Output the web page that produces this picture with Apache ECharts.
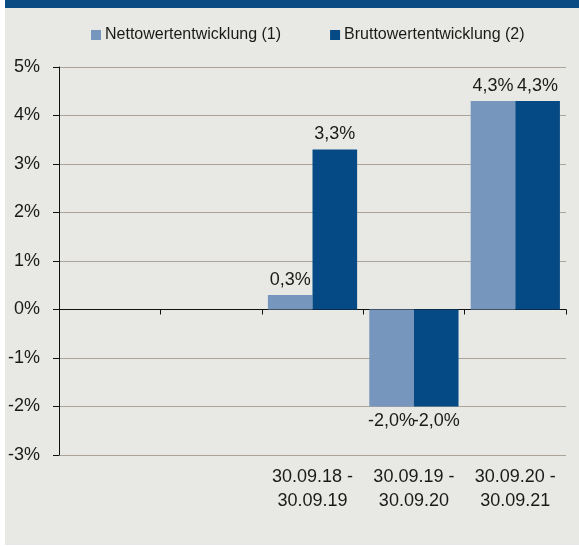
<!DOCTYPE html>
<html>
<head>
<meta charset="utf-8">
<script src="https://cdn.jsdelivr.net/npm/echarts@6/dist/echarts.min.js"></script>
<style>
  html, body { margin: 0; padding: 0; background: #ffffff; }
  #main { width: 579px; height: 546px; }
</style>
</head>
<body>
<div id="main"></div>
<script>
// Kategorien (die ersten beiden Jahre sind leer)
var categories = ['', '', '30.09.18 -\n30.09.19', '30.09.19 -\n30.09.20', '30.09.20 -\n30.09.21'];
// Nettowertentwicklung (1)
var nettoValues = [null, null, 0.3, -2.0, 4.3];
// Bruttowertentwicklung (2)
var bruttoValues = [null, null, 3.3, -2.0, 4.3];
var seriesNames = ['Nettowertentwicklung (1)', 'Bruttowertentwicklung (2)'];

var fontFamily = '"Liberation Sans", Arial, sans-serif';
var textColor = '#1a1a1a';

// Prozentwert mit Komma
function fmt(v) {
    return v.toFixed(1).replace('.', ',') + '%';
}

var main = document.getElementById('main');
var chart = echarts.init(main);

function barLabel() {
    return {
        show: true,
        position: 'top',
        distance: 6,
        color: textColor,
        fontFamily: fontFamily,
        fontSize: 18,
        formatter: function (p) {
            return p.value == null ? '' : fmt(p.value);
        }
    };
}

function withNegLabel(values) {
    // negative Balken bekommen das Label unten
    return values.map(function (v) {
        if (v != null && v < 0) {
            return { value: v, label: { position: 'bottom' } };
        }
        return v;
    });
}

var option = {
    backgroundColor: '#ffffff',
    animation: false,
    graphic: [
        { type: 'rect', shape: { x: 5, y: 0, width: 574, height: 545 }, style: { fill: '#e8e8e4' }, z: -10 },
        { type: 'rect', shape: { x: 5, y: 0, width: 574, height: 8 }, style: { fill: '#0b4b84' }, z: -9 }
    ],
    legend: {
        top: 27,
        left: 91,
        padding: 0,
        itemWidth: 10,
        itemHeight: 10,
        itemGap: 49,
        icon: 'rect',
        textStyle: { color: textColor, fontFamily: fontFamily, fontSize: 16, padding: [0, 0, 0, -1] },
        data: seriesNames
    },
    grid: {
        left: 59,
        right: 13,
        top: 67,
        bottom: 91,
        containLabel: false
    },
    xAxis: [
        {
            type: 'category',
            data: categories,
            position: 'bottom',
            axisLine: { show: false },
            axisTick: { show: false },
            axisLabel: {
                color: textColor,
                fontFamily: fontFamily,
                fontSize: 18,
                lineHeight: 24,
                margin: 10,
                interval: 0
            }
        },
        {
            type: 'category',
            data: categories,
            position: 'bottom',
            axisLine: { show: true, onZero: true, onZeroAxisIndex: 0, lineStyle: { color: '#111111', width: 1 } },
            axisTick: { show: true, length: 5, inside: false, lineStyle: { color: '#111111' } },
            axisLabel: { show: false }
        }
    ],
    yAxis: {
        type: 'value',
        min: -3,
        max: 5,
        interval: 1,
        axisLine: { show: true, lineStyle: { color: '#111111', width: 1 } },
        axisTick: { show: true, length: 6, lineStyle: { color: '#111111' } },
        splitLine: { show: true, lineStyle: { color: '#aaa49b', width: 1 } },
        axisLabel: {
            color: textColor,
            fontFamily: fontFamily,
            fontSize: 18,
            margin: 19,
            formatter: function (v) { return v + '%'; }
        }
    },
    series: [
        {
            name: seriesNames[0],
            type: 'bar',
            xAxisIndex: 0,
            data: withNegLabel(nettoValues),
            barGap: '0%',
            barCategoryGap: '12%',
            itemStyle: { color: '#7796bd' },
            label: barLabel()
        },
        {
            name: seriesNames[1],
            type: 'bar',
            xAxisIndex: 0,
            data: withNegLabel(bruttoValues),
            barGap: '0%',
            barCategoryGap: '12%',
            itemStyle: { color: '#054a85' },
            label: barLabel()
        }
    ]
};

chart.setOption(option);
</script>
</body>
</html>
